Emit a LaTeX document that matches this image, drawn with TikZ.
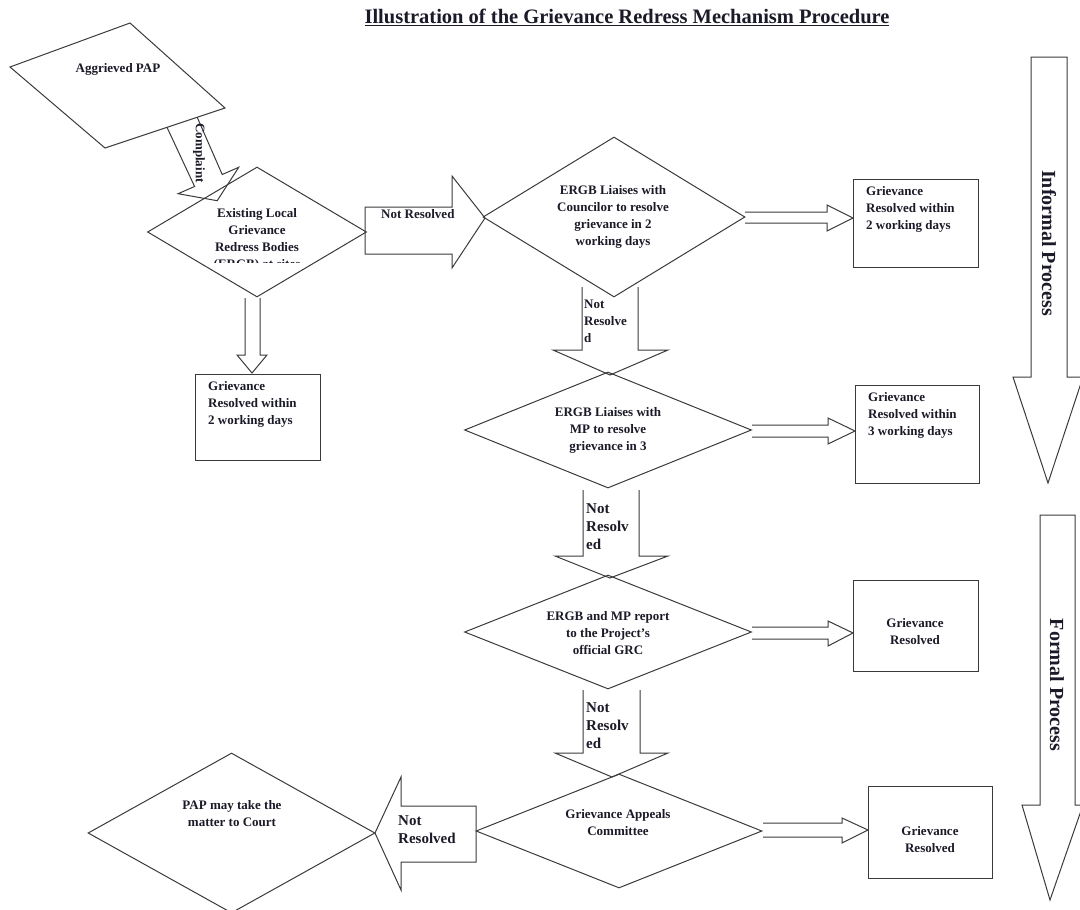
\documentclass[tikz,border=0pt]{standalone}
\usepackage{fontspec}
\setmainfont{Liberation Serif}
\usetikzlibrary{shapes.geometric}
\definecolor{linec}{HTML}{3A3A3A}
\definecolor{textc}{HTML}{1A1A28}
\tikzset{
  outl/.style={draw=linec, line width=1pt},
  dia/.style={shape=diamond, outl, inner sep=0pt},
  rbox/.style={rectangle, outl, inner sep=0pt, anchor=north west},
  txt/.style={font=\fontsize{13}{17}\selectfont\bfseries, align=center, inner sep=0pt, text=textc},
  ltxt/.style={txt, align=left, anchor=north west},
  bigtxt/.style={font=\fontsize{15}{18}\selectfont\bfseries, align=left, inner sep=0pt, text=textc, anchor=north west},
  sidetxt/.style={font=\fontsize{20}{24}\selectfont\bfseries, inner sep=0pt, text=textc, rotate=-90},
  blockarrow/.style={outl, line join=miter}
}
\begin{document}
\begin{tikzpicture}[x=1pt,y=-1pt]
\useasboundingbox (0,0) rectangle (1080,910);

% title
\node[font=\fontsize{20.5}{24}\selectfont\bfseries, text=textc, inner sep=0pt] (title) at (627,17) {\underline{Illustration of the Grievance Redress Mechanism Procedure}};

% Aggrieved PAP parallelogram
\coordinate (p1) at (10,67);
\coordinate (p2) at (130,23);
\coordinate (p3) at (225,108);
\coordinate (p4) at (105,148);
\draw[outl] (p1) -- (p2) -- (p3) -- (p4) -- cycle;
\node[txt] (pap) at (118,69) {Aggrieved PAP};

% Complaint arrow
\draw[blockarrow] (167,127.3) -- (194.6,186.5) -- (178.1,193.7) -- (217.2,200.7) -- (238.7,167.3) -- (222.2,174.5) -- (197.2,117.3);
\node[txt, rotate=-90] (complaint) at (199,153) {Complaint};

% Diamond 1
\node[dia, minimum width=219pt, minimum height=130pt] (d1) at (257,232) {};
\begin{scope}
\clip (150,195) rectangle (365,262);
\node[txt] (d1t) at (257,240) {Existing Local\\Grievance\\Redress Bodies\\(ERGB) at sites};
\end{scope}

% down arrow to box 1
\draw[blockarrow] (245,298) -- (245,355) -- (237,355) -- (252,373) -- (267,355) -- (260,355) -- (260,298);

% box 1
\node[rbox, minimum width=125pt, minimum height=86pt] (b1) at (195,374) {};
\node[ltxt] (b1t) at (208,381) {Grievance\\Resolved within\\2 working days};

% Not Resolved arrow to diamond 2
\draw[blockarrow] (365,207) -- (452,207) -- (452,176) -- (485,218) -- (452,268) -- (452,254) -- (365,254) -- cycle;
\node[txt, anchor=west] (nr1) at (381,214) {Not Resolved};

% Diamond 2
\node[dia, minimum width=262pt, minimum height=160pt] (d2) at (614,217) {};
\node[txt] (d2t) at (613,217) {ERGB Liaises with\\Councilor to resolve\\grievance in 2\\working days};

% arrow to box 2
\draw[blockarrow] (745,212) -- (827,212) -- (827,205) -- (853,218) -- (827,231) -- (827,223) -- (745,223);
\node[rbox, minimum width=125pt, minimum height=88pt] (b2) at (853,179) {};
\node[ltxt] (b2t) at (866,186) {Grievance\\Resolved within\\2 working days};

% down arrow 2
\draw[blockarrow] (582,287) -- (582,350) -- (553,350) -- (610,375) -- (668,350) -- (638,350) -- (638,287);
\node[ltxt] (nr2) at (584,300) {Not\\Resolve\\d};

% Diamond 3
\node[dia, minimum width=287pt, minimum height=116pt] (d3) at (608,430) {};
\node[txt] (d3t) at (608,430) {ERGB Liaises with\\MP to resolve\\grievance in 3};

% arrow to box 3
\draw[blockarrow] (752,425) -- (828,425) -- (828,418) -- (855,431) -- (828,444) -- (828,437) -- (752,437);
\node[rbox, minimum width=124pt, minimum height=98pt] (b3) at (855,385) {};
\node[ltxt] (b3t) at (868,392) {Grievance\\Resolved within\\3 working days};

% down arrow 3
\draw[blockarrow] (583,490) -- (583,556) -- (555,556) -- (610,578) -- (668,556) -- (639,556) -- (639,490);
\node[bigtxt] (nr3) at (586,503) {Not\\Resolv\\ed};

% Diamond 4
\node[dia, minimum width=287pt, minimum height=114pt] (d4) at (608,632) {};
\node[txt] (d4t) at (608,633) {ERGB and MP report\\to the Project's\\official GRC};

% arrow to box 4
\draw[blockarrow] (752,627) -- (828,627) -- (828,621) -- (853,633) -- (828,646) -- (828,639) -- (752,639);
\node[rbox, minimum width=125pt, minimum height=91pt] (b4) at (853,580) {};
\node[txt] (b4t) at (915,632) {Grievance\\Resolved};

% down arrow 4
\draw[blockarrow] (583,690) -- (583,753) -- (555,753) -- (612,777) -- (668,753) -- (640,753) -- (640,690);
\node[bigtxt] (nr4) at (586,702) {Not\\Resolv\\ed};

% Diamond 5
\node[dia, minimum width=286pt, minimum height=114pt] (d5) at (619,831) {};
\node[txt] (d5t) at (618,823) {Grievance Appeals\\Committee};

% arrow to box 5
\draw[blockarrow] (763,823) -- (842,823) -- (842,818) -- (868,830) -- (842,843) -- (842,837) -- (763,837);
\node[rbox, minimum width=124pt, minimum height=92pt] (b5) at (868,786) {};
\node[txt] (b5t) at (930,840) {Grievance\\Resolved};

% Not Resolved left arrow
\draw[blockarrow] (476,806) -- (401,806) -- (401,777) -- (375,833) -- (401,890) -- (401,862) -- (476,862) -- cycle;
\node[bigtxt, anchor=west] (nr5) at (398,830) {Not\\Resolved};

% Court diamond
\node[dia, minimum width=287pt, minimum height=160pt] (d6) at (231.5,833) {};
\node[txt] (d6t) at (232,814) {PAP may take the\\matter to Court};

% Informal process arrow
\draw[blockarrow] (1031,57) -- (1031,377) -- (1013,377) -- (1048,483) -- (1083,377) -- (1067,377) -- (1067,57) -- cycle;
\node[sidetxt] (inf) at (1049,243) {Informal Process};

% Formal process arrow
\draw[blockarrow] (1040,515) -- (1040,805) -- (1022,805) -- (1050,900) -- (1083,805) -- (1075,805) -- (1075,515) -- cycle;
\node[sidetxt] (form) at (1057,685) {Formal Process};
\end{tikzpicture}
\end{document}
